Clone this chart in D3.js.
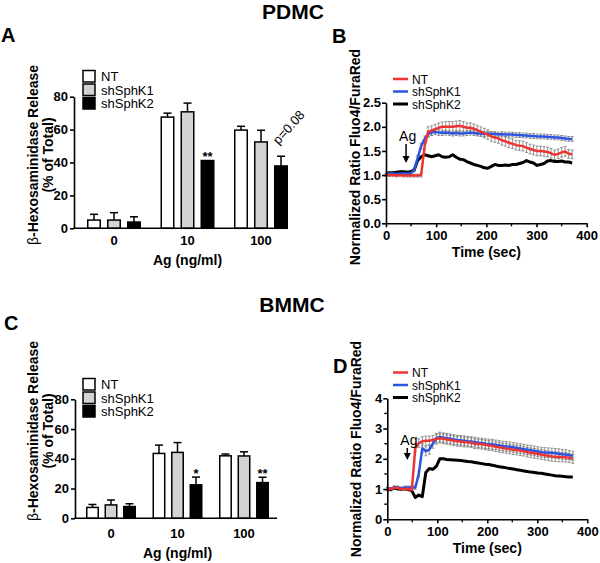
<!DOCTYPE html>
<html><head><meta charset="utf-8">
<script src="https://cdn.jsdelivr.net/npm/d3@7"></script>
<style>body{margin:0;background:#fff} svg{display:block} text{font-family:"Liberation Sans",Arial,sans-serif}</style>
</head><body><svg id="c" width="600" height="563"></svg>
<script>
// ---------- categories / labels ----------
const groups = ["0", "10", "100"];
const seriesNames = ["NT", "shSphK1", "shSphK2"];
const yTicksBar = [0, 20, 40, 60, 80];
const xTicksTime = [0, 100, 200, 300, 400];
const xMinorTime = [50, 150, 250, 350];
const yTicksB = [0, 0.5, 1, 1.5, 2, 2.5];
const yTicksD = [0, 1, 2, 3, 4];
const yMinorD = [0.5, 1.5, 2.5, 3.5];

// ---------- PDMC bars (A) ----------
const pdmcNT = [5.0, 67.6, 59.7];
const pdmcNTErr = [3.5, 2.4, 2.3];
const pdmcK1 = [5.0, 70.8, 52.5];
const pdmcK1Err = [4.5, 5.3, 7.1];
const pdmcK2 = [3.8, 41.2, 37.9];
const pdmcK2Err = [3.2, 0, 5.9];
const pdmcK2Marks = ["", "**", "p=0.08"];

// ---------- BMMC bars (C) ----------
const bmmcNT = [7.3, 43.6, 42.0];
const bmmcNTErr = [2.0, 5.6, 1.2];
const bmmcK1 = [9.0, 44.3, 41.9];
const bmmcK1Err = [3.3, 6.6, 2.8];
const bmmcK2 = [7.9, 22.5, 24.0];
const bmmcK2Err = [1.9, 5.2, 3.6];
const bmmcK2Marks = ["", "*", "**"];

// ---------- Ca2+ traces, sample times (sec) ----------
const times = d3.range(0, 372, 7);

// PDMC (B)
const bNT = [1.0,1.0,1.0,0.99,1.0,0.99,0.99,0.99,0.99,0.99,1.0,1.6,1.9,1.92,1.95,1.98,2.0,2.0,2.0,2.0,2.01,2.02,2.0,1.98,1.98,1.96,1.93,1.9,1.87,1.84,1.8,1.78,1.76,1.72,1.7,1.67,1.65,1.62,1.61,1.6,1.57,1.54,1.52,1.5,1.5,1.49,1.48,1.45,1.42,1.44,1.47,1.49,1.44,1.43];
const bNTErr = [0.03,0.03,0.03,0.03,0.03,0.03,0.03,0.03,0.03,0.03,0.04,0.08,0.1,0.1,0.1,0.1,0.1,0.11,0.11,0.11,0.11,0.11,0.11,0.1,0.1,0.1,0.1,0.1,0.1,0.1,0.1,0.1,0.1,0.1,0.1,0.1,0.1,0.1,0.1,0.1,0.1,0.1,0.1,0.1,0.1,0.1,0.1,0.1,0.1,0.1,0.1,0.1,0.09,0.09];
const bK1 = [1.02,1.03,1.03,1.02,1.03,1.03,1.03,1.03,1.1,1.35,1.6,1.75,1.85,1.88,1.9,1.88,1.87,1.88,1.87,1.86,1.87,1.86,1.86,1.87,1.88,1.87,1.86,1.86,1.85,1.86,1.85,1.85,1.84,1.85,1.84,1.84,1.84,1.83,1.83,1.82,1.82,1.81,1.81,1.8,1.8,1.8,1.79,1.79,1.78,1.78,1.77,1.76,1.75,1.75];
const bK1Err = [0.02,0.02,0.02,0.02,0.02,0.02,0.02,0.02,0.03,0.05,0.06,0.06,0.06,0.06,0.06,0.06,0.05,0.05,0.05,0.05,0.05,0.05,0.05,0.05,0.05,0.05,0.05,0.05,0.05,0.05,0.05,0.05,0.05,0.05,0.05,0.05,0.05,0.05,0.05,0.05,0.05,0.05,0.05,0.05,0.05,0.05,0.05,0.05,0.05,0.05,0.05,0.05,0.05,0.05];
const bK2 = [1.04,1.05,1.05,1.06,1.07,1.07,1.06,1.07,1.1,1.3,1.38,1.42,1.4,1.38,1.4,1.42,1.38,1.37,1.38,1.42,1.37,1.33,1.32,1.28,1.25,1.22,1.2,1.18,1.15,1.14,1.18,1.22,1.2,1.2,1.21,1.2,1.22,1.22,1.24,1.26,1.3,1.27,1.25,1.2,1.22,1.24,1.29,1.3,1.28,1.28,1.29,1.27,1.27,1.25];

// BMMC (D)
const dNT = [1.0,1.0,1.05,1.03,1.0,1.0,1.0,0.97,2.35,2.52,2.58,2.6,2.6,2.62,2.65,2.68,2.66,2.64,2.62,2.6,2.58,2.57,2.55,2.55,2.53,2.5,2.49,2.48,2.46,2.44,2.43,2.4,2.38,2.36,2.34,2.32,2.3,2.29,2.27,2.25,2.22,2.2,2.18,2.16,2.14,2.12,2.1,2.08,2.07,2.06,2.06,2.05,2.03,2.0];
const dNTErr = [0.05,0.05,0.05,0.05,0.05,0.05,0.05,0.05,0.12,0.14,0.15,0.15,0.15,0.15,0.16,0.16,0.16,0.16,0.16,0.16,0.16,0.16,0.16,0.16,0.16,0.16,0.16,0.16,0.16,0.16,0.16,0.16,0.16,0.16,0.16,0.16,0.16,0.16,0.16,0.16,0.16,0.16,0.16,0.16,0.16,0.16,0.16,0.16,0.16,0.16,0.16,0.16,0.15,0.15];
const dK1 = [1.02,1.0,1.05,1.05,1.02,1.05,1.05,1.05,1.05,1.5,2.35,2.25,2.3,2.5,2.68,2.72,2.7,2.68,2.66,2.64,2.62,2.61,2.6,2.58,2.57,2.55,2.53,2.52,2.5,2.49,2.48,2.46,2.44,2.42,2.41,2.4,2.38,2.36,2.34,2.32,2.3,2.28,2.26,2.24,2.22,2.21,2.2,2.19,2.18,2.17,2.15,2.14,2.12,2.1];
const dK1Err = [0.05,0.05,0.05,0.05,0.05,0.05,0.05,0.05,0.06,0.1,0.15,0.15,0.15,0.15,0.16,0.16,0.16,0.16,0.16,0.16,0.16,0.16,0.16,0.16,0.16,0.16,0.16,0.16,0.16,0.16,0.16,0.16,0.16,0.16,0.16,0.16,0.16,0.16,0.16,0.16,0.16,0.16,0.16,0.16,0.16,0.16,0.16,0.16,0.16,0.16,0.16,0.16,0.15,0.15];
const dK2 = [1.0,0.98,1.05,1.0,1.0,1.02,0.98,0.95,0.72,0.8,0.75,1.55,1.68,1.65,1.75,2.0,2.0,1.98,1.97,1.96,1.95,1.94,1.93,1.91,1.9,1.88,1.86,1.84,1.82,1.81,1.79,1.76,1.74,1.72,1.7,1.68,1.66,1.64,1.62,1.6,1.58,1.56,1.55,1.53,1.52,1.5,1.48,1.46,1.44,1.43,1.42,1.41,1.4,1.4];

// ---------- styles ----------
const barFills = ["#ffffff", "#d3d3d3", "#000000"];
const lineColors = ["#ee3333", "#2b55e0", "#000000"];
const FONT = '"Liberation Sans", Arial, sans-serif';
const LEG_FS = "13px";
const LEG_FS_TRACE = "12px";

const svg = d3.select("#c");

function styleAxis(sel) {
  sel.selectAll(".domain").attr("stroke", "#000").attr("stroke-width", 1.6);
  sel.selectAll(".tick line").attr("stroke", "#000").attr("stroke-width", 1.6);
  sel.selectAll(".tick text").attr("fill", "#000").style("font-family", FONT)
    .style("font-size", "13px").style("font-weight", "bold");
}

function barPanel(cfg) {
  const g = svg.append("g");
  const y = d3.scaleLinear().domain([0, 80]).range([cfg.y0, cfg.y80]);
  const xg = d3.scalePoint().domain(groups).range([cfg.c0, cfg.c2]);
  const xs = d3.scaleBand().domain(seriesNames).range([-cfg.half, cfg.half]).paddingInner(cfg.pad);
  const bw = xs.bandwidth();
  const rows = [];
  cfg.means.forEach((arr, si) => arr.forEach((v, gi) => rows.push({
    g: groups[gi], s: seriesNames[si], si, v, e: cfg.errs[si][gi]
  })));
  // error bars (upward only)
  const eb = g.append("g").attr("stroke", "#000").attr("stroke-width", 1.5);
  rows.filter(d => d.e > 0).forEach(d => {
    const cx = xg(d.g) + xs(d.s) + bw / 2;
    eb.append("line").attr("x1", cx).attr("x2", cx).attr("y1", y(d.v)).attr("y2", y(d.v + d.e));
    eb.append("line").attr("x1", cx - 4).attr("x2", cx + 4).attr("y1", y(d.v + d.e)).attr("y2", y(d.v + d.e));
  });
  g.append("g").selectAll("rect").data(rows).join("rect")
    .attr("x", d => xg(d.g) + xs(d.s) + 0.75)
    .attr("width", bw - 1.5)
    .attr("y", d => y(d.v))
    .attr("height", d => y(0) - y(d.v))
    .attr("fill", d => barFills[d.si])
    .attr("stroke", "#000").attr("stroke-width", 1.5);
  // axes
  const ya = g.append("g").attr("transform", `translate(${cfg.ax},0)`)
    .call(d3.axisLeft(y).tickValues(yTicksBar).tickSize(4).tickSizeOuter(0).tickPadding(2));
  styleAxis(ya);
  g.append("line").attr("x1", cfg.ax - 0.8).attr("x2", cfg.axEnd).attr("y1", y(0)).attr("y2", y(0))
    .attr("stroke", "#000").attr("stroke-width", 1.6);
  g.append("g").selectAll("text").data(groups).join("text")
    .attr("x", d => xg(d)).attr("y", cfg.tickY).attr("text-anchor", "middle")
    .style("font-size", "13px").style("font-weight", "bold").text(d => d);
  g.append("text").attr("x", (cfg.c0 + cfg.c2) / 2).attr("y", cfg.xTitleY).attr("text-anchor", "middle")
    .style("font-size", "14px").style("font-weight", "bold").text("Ag (ng/ml)");
  // y title
  const yt = g.append("text").attr("transform", `translate(${cfg.yTitleX},${cfg.yTitleC}) rotate(-90)`)
    .attr("text-anchor", "middle").style("font-size", "14px").style("font-weight", "bold");
  yt.append("tspan").style("font-weight", "normal").text("β");
  yt.append("tspan").text("-Hexosaminidase Release");
  g.append("text").attr("transform", `translate(${cfg.yTitleX + 15},${cfg.yTitleC}) rotate(-90)`)
    .attr("text-anchor", "middle").style("font-size", "14px").style("font-weight", "bold").text("(% of Total)");
  // legend
  seriesNames.forEach((s, i) => {
    const ly = cfg.legY[i];
    g.append("rect").attr("x", cfg.legX).attr("y", ly).attr("width", 12).attr("height", 11.5)
      .attr("fill", barFills[i]).attr("stroke", "#000").attr("stroke-width", 1.5);
    g.append("text").attr("x", cfg.legX + 18).attr("y", ly + 10.5).style("font-size", LEG_FS).text(s);
  });
  // significance marks on shSphK2
  cfg.marks.forEach((m, gi) => {
    if (!m) return;
    const cx = xg(groups[gi]) + xs("shSphK2") + bw / 2;
    const top = y(cfg.means[2][gi] + cfg.errs[2][gi]);
    if (m.startsWith("p")) {
      g.append("text").attr("transform", `translate(${cx + 11},${top - 26}) rotate(-48)`)
        .attr("text-anchor", "middle")
        .style("font-size", "13px").text(m);
    } else {
      g.append("text").attr("x", cx).attr("y", top + 0.5).attr("text-anchor", "middle")
        .style("font-size", "13px").style("font-weight", "bold").text(m);
    }
  });
}

function tracePanel(cfg) {
  const g = svg.append("g");
  const x = d3.scaleLinear().domain([0, 400]).range([cfg.x0, cfg.x400]);
  const y = d3.scaleLinear().domain([0, cfg.ymax]).range([cfg.y0, cfg.ytop]);
  // error bars
  const eg = g.append("g").attr("stroke", "#7a7a7a").attr("stroke-width", 0.8);
  [0, 1].forEach(si => {
    times.forEach((t, i) => {
      const v = cfg.vals[si][i], e = cfg.errs[si][i];
      const cx = x(t);
      eg.append("line").attr("x1", cx).attr("x2", cx).attr("y1", y(v - e)).attr("y2", y(v + e));
      eg.append("line").attr("x1", cx - 1.5).attr("x2", cx + 1.5).attr("y1", y(v + e)).attr("y2", y(v + e));
      eg.append("line").attr("x1", cx - 1.5).attr("x2", cx + 1.5).attr("y1", y(v - e)).attr("y2", y(v - e));
    });
  });
  const line = d3.line().x((d, i) => x(times[i])).y(d => y(d));
  [2, 1, 0].forEach(si => {
    g.append("path").datum(cfg.vals[si]).attr("d", line).attr("fill", "none")
      .attr("stroke", lineColors[si]).attr("stroke-width", si === 2 ? 3 : 2.5)
      .attr("stroke-linejoin", "round");
  });
  // axes
  const ya = g.append("g").attr("transform", `translate(${cfg.x0},0)`)
    .call(d3.axisLeft(y).tickValues(cfg.yticks).tickSize(4).tickSizeOuter(0).tickPadding(1)
      .tickFormat(cfg.yfmt));
  styleAxis(ya);
  const xa = g.append("g").attr("transform", `translate(0,${cfg.y0})`)
    .call(d3.axisBottom(x).tickValues(xTicksTime).tickSize(4).tickSizeOuter(0).tickPadding(3)
      .tickFormat(d3.format("d")));
  styleAxis(xa);
  const mg = g.append("g").attr("stroke", "#000").attr("stroke-width", 1.4);
  xMinorTime.forEach(t => mg.append("line").attr("x1", x(t)).attr("x2", x(t)).attr("y1", cfg.y0).attr("y2", cfg.y0 + 3));
  (cfg.yminor || []).forEach(v => mg.append("line").attr("x1", cfg.x0).attr("x2", cfg.x0 - 3).attr("y1", y(v)).attr("y2", y(v)));
  g.append("text").attr("x", (cfg.x0 + cfg.x400) / 2).attr("y", cfg.xTitleY).attr("text-anchor", "middle")
    .style("font-size", "14px").style("font-weight", "bold").text("Time (sec)");
  g.append("text").attr("transform", `translate(${cfg.yTitleX},${cfg.yTitleC}) rotate(-90)`)
    .attr("text-anchor", "middle").style("font-size", "14px").style("font-weight", "bold")
    .text("Normalized Ratio Fluo4/FuraRed");
  // legend
  seriesNames.forEach((s, i) => {
    const ly = cfg.legY[i];
    g.append("line").attr("x1", 393).attr("x2", 408).attr("y1", ly).attr("y2", ly)
      .attr("stroke", lineColors[i]).attr("stroke-width", i === 2 ? 3 : 2.5);
    g.append("text").attr("x", 412).attr("y", ly + 4.5).style("font-size", LEG_FS_TRACE).text(s);
  });
  // Ag arrow
  const ax = x(40);
  g.append("text").attr("x", ax - 7).attr("y", cfg.agY).style("font-size", "14px").text("Ag");
  g.append("line").attr("x1", ax).attr("x2", ax).attr("y1", cfg.agY + 3).attr("y2", cfg.arrowTip - 5)
    .attr("stroke", "#000").attr("stroke-width", 1.5);
  g.append("path").attr("d", `M${ax - 3.5},${cfg.arrowTip - 7}L${ax + 3.5},${cfg.arrowTip - 7}L${ax},${cfg.arrowTip}Z`)
    .attr("fill", "#000");
}

// panel titles and letters
const big = (x, y, t, fs, anchor) => svg.append("text").attr("x", x).attr("y", y)
  .attr("text-anchor", anchor || "start").style("font-size", fs + "px").style("font-weight", "bold").text(t);
big(293, 19, "PDMC", 21, "middle");
big(292, 312, "BMMC", 21, "middle");
big(1, 42, "A", 20);
big(332, 43, "B", 20);
big(4, 330, "C", 20);
big(333, 373, "D", 20);

barPanel({
  y0: 228.3, y80: 96.7, c0: 114, c2: 261, half: 27, pad: 0.3, ax: 74, axEnd: 288,
  means: [pdmcNT, pdmcK1, pdmcK2], errs: [pdmcNTErr, pdmcK1Err, pdmcK2Err], marks: pdmcK2Marks,
  tickY: 245, xTitleY: 265, yTitleX: 38, yTitleC: 155, legX: 83, legY: [70.5, 84, 97.5]
});
barPanel({
  y0: 518.3, y80: 399.3, c0: 111, c2: 244, half: 25, pad: 0.3, ax: 75, axEnd: 277,
  means: [bmmcNT, bmmcK1, bmmcK2], errs: [bmmcNTErr, bmmcK1Err, bmmcK2Err], marks: bmmcK2Marks,
  tickY: 538, xTitleY: 558, yTitleX: 38, yTitleC: 431, legX: 83, legY: [378.5, 392, 405.5]
});
tracePanel({
  x0: 386, x400: 586.7, y0: 223.3, ytop: 102.7, ymax: 2.5, yticks: yTicksB, yfmt: d3.format(".1f"),
  vals: [bNT, bK1, bK2], errs: [bNTErr, bK1Err],
  xTitleY: 257, yTitleX: 360, yTitleC: 157, legY: [79, 91.5, 104], agY: 141, arrowTip: 163
});
tracePanel({
  x0: 387.3, x400: 587.3, y0: 519.3, ytop: 398.3, ymax: 4, yticks: yTicksD, yfmt: d3.format("d"), yminor: yMinorD,
  vals: [dNT, dK1, dK2], errs: [dNTErr, dK1Err],
  xTitleY: 553, yTitleX: 361, yTitleC: 449, legY: [372.5, 385, 397.5], agY: 445, arrowTip: 460
});
</script></body></html>
